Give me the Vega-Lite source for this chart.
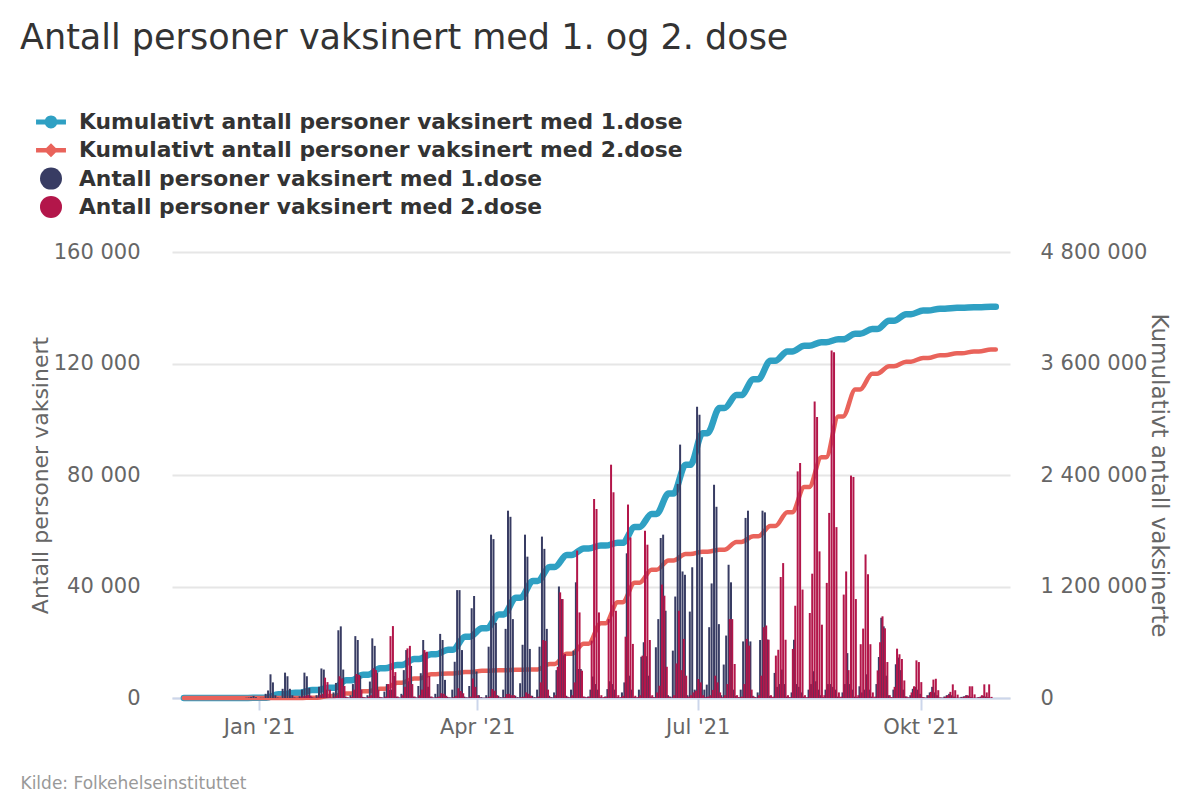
{
  "$schema": "https://vega.github.io/schema/vega-lite/v6.json",
  "width": 838,
  "height": 446,
  "autosize": {"type": "none"},
  "padding": {"left": 172, "top": 252, "right": 190, "bottom": 102},
  "background": "white",
  "config": {
    "font": "DejaVu Sans",
    "view": {"stroke": null},
    "axis": {
      "labelColor": "#666666",
      "labelFontSize": 21,
      "labelFont": "DejaVu Sans",
      "titleColor": "#666666",
      "titleFontSize": 22,
      "titleFont": "DejaVu Sans",
      "titleFontWeight": "normal"
    }
  },
  "title": {
    "text": "Antall personer vaksinert med 1. og 2. dose",
    "anchor": "start",
    "frame": "group",
    "dx": -152,
    "offset": 55,
    "fontSize": 35,
    "fontWeight": "normal",
    "font": "DejaVu Sans",
    "color": "#333333"
  },
  "datasets": {
    "kumulativ": [
      {"dato": "2020-12-01", "k1": 0, "k2": 0},
      {"dato": "2020-12-26", "k1": 0, "k2": 0},
      {"dato": "2021-01-02", "k1": 4000, "k2": 0},
      {"dato": "2021-01-04", "k1": 4000, "k2": 0},
      {"dato": "2021-01-09", "k1": 40000, "k2": 0},
      {"dato": "2021-01-11", "k1": 40000, "k2": 0},
      {"dato": "2021-01-16", "k1": 57000, "k2": 0},
      {"dato": "2021-01-18", "k1": 57000, "k2": 0},
      {"dato": "2021-01-23", "k1": 85000, "k2": 4000},
      {"dato": "2021-01-25", "k1": 85000, "k2": 4000},
      {"dato": "2021-01-30", "k1": 110000, "k2": 22000},
      {"dato": "2021-02-01", "k1": 110000, "k2": 22000},
      {"dato": "2021-02-06", "k1": 190000, "k2": 48000},
      {"dato": "2021-02-08", "k1": 190000, "k2": 48000},
      {"dato": "2021-02-13", "k1": 250000, "k2": 72000},
      {"dato": "2021-02-15", "k1": 250000, "k2": 72000},
      {"dato": "2021-02-20", "k1": 320000, "k2": 100000},
      {"dato": "2021-02-22", "k1": 320000, "k2": 100000},
      {"dato": "2021-02-27", "k1": 355000, "k2": 165000},
      {"dato": "2021-03-01", "k1": 355000, "k2": 165000},
      {"dato": "2021-03-06", "k1": 420000, "k2": 210000},
      {"dato": "2021-03-08", "k1": 420000, "k2": 210000},
      {"dato": "2021-03-13", "k1": 470000, "k2": 255000},
      {"dato": "2021-03-15", "k1": 470000, "k2": 255000},
      {"dato": "2021-03-20", "k1": 520000, "k2": 265000},
      {"dato": "2021-03-22", "k1": 520000, "k2": 265000},
      {"dato": "2021-03-27", "k1": 660000, "k2": 280000},
      {"dato": "2021-03-29", "k1": 660000, "k2": 280000},
      {"dato": "2021-04-03", "k1": 750000, "k2": 292000},
      {"dato": "2021-04-05", "k1": 750000, "k2": 292000},
      {"dato": "2021-04-10", "k1": 900000, "k2": 298000},
      {"dato": "2021-04-12", "k1": 900000, "k2": 298000},
      {"dato": "2021-04-17", "k1": 1080000, "k2": 303000},
      {"dato": "2021-04-19", "k1": 1080000, "k2": 303000},
      {"dato": "2021-04-24", "k1": 1260000, "k2": 308000},
      {"dato": "2021-04-26", "k1": 1260000, "k2": 308000},
      {"dato": "2021-05-01", "k1": 1410000, "k2": 365000},
      {"dato": "2021-05-03", "k1": 1410000, "k2": 365000},
      {"dato": "2021-05-08", "k1": 1540000, "k2": 475000},
      {"dato": "2021-05-10", "k1": 1540000, "k2": 475000},
      {"dato": "2021-05-15", "k1": 1610000, "k2": 585000},
      {"dato": "2021-05-17", "k1": 1610000, "k2": 585000},
      {"dato": "2021-05-22", "k1": 1640000, "k2": 805000},
      {"dato": "2021-05-24", "k1": 1640000, "k2": 805000},
      {"dato": "2021-05-29", "k1": 1670000, "k2": 1030000},
      {"dato": "2021-05-31", "k1": 1670000, "k2": 1030000},
      {"dato": "2021-06-05", "k1": 1840000, "k2": 1240000},
      {"dato": "2021-06-07", "k1": 1840000, "k2": 1240000},
      {"dato": "2021-06-12", "k1": 1980000, "k2": 1380000},
      {"dato": "2021-06-14", "k1": 1980000, "k2": 1380000},
      {"dato": "2021-06-19", "k1": 2200000, "k2": 1480000},
      {"dato": "2021-06-21", "k1": 2200000, "k2": 1480000},
      {"dato": "2021-06-26", "k1": 2510000, "k2": 1550000},
      {"dato": "2021-06-28", "k1": 2510000, "k2": 1550000},
      {"dato": "2021-07-03", "k1": 2850000, "k2": 1575000},
      {"dato": "2021-07-05", "k1": 2850000, "k2": 1575000},
      {"dato": "2021-07-10", "k1": 3120000, "k2": 1595000},
      {"dato": "2021-07-12", "k1": 3120000, "k2": 1595000},
      {"dato": "2021-07-17", "k1": 3260000, "k2": 1680000},
      {"dato": "2021-07-19", "k1": 3260000, "k2": 1680000},
      {"dato": "2021-07-24", "k1": 3430000, "k2": 1740000},
      {"dato": "2021-07-26", "k1": 3430000, "k2": 1740000},
      {"dato": "2021-07-31", "k1": 3630000, "k2": 1850000},
      {"dato": "2021-08-02", "k1": 3630000, "k2": 1850000},
      {"dato": "2021-08-07", "k1": 3730000, "k2": 2000000},
      {"dato": "2021-08-09", "k1": 3730000, "k2": 2000000},
      {"dato": "2021-08-14", "k1": 3790000, "k2": 2270000},
      {"dato": "2021-08-16", "k1": 3790000, "k2": 2270000},
      {"dato": "2021-08-21", "k1": 3830000, "k2": 2590000},
      {"dato": "2021-08-23", "k1": 3830000, "k2": 2590000},
      {"dato": "2021-08-28", "k1": 3860000, "k2": 3030000},
      {"dato": "2021-08-30", "k1": 3860000, "k2": 3030000},
      {"dato": "2021-09-04", "k1": 3920000, "k2": 3320000},
      {"dato": "2021-09-06", "k1": 3920000, "k2": 3320000},
      {"dato": "2021-09-11", "k1": 3970000, "k2": 3490000},
      {"dato": "2021-09-13", "k1": 3970000, "k2": 3490000},
      {"dato": "2021-09-18", "k1": 4060000, "k2": 3570000},
      {"dato": "2021-09-20", "k1": 4060000, "k2": 3570000},
      {"dato": "2021-09-25", "k1": 4130000, "k2": 3620000},
      {"dato": "2021-09-27", "k1": 4130000, "k2": 3620000},
      {"dato": "2021-10-02", "k1": 4170000, "k2": 3660000},
      {"dato": "2021-10-04", "k1": 4170000, "k2": 3660000},
      {"dato": "2021-10-09", "k1": 4190000, "k2": 3690000},
      {"dato": "2021-10-11", "k1": 4190000, "k2": 3690000},
      {"dato": "2021-10-16", "k1": 4200000, "k2": 3710000},
      {"dato": "2021-10-18", "k1": 4200000, "k2": 3710000},
      {"dato": "2021-10-23", "k1": 4205000, "k2": 3730000},
      {"dato": "2021-10-25", "k1": 4205000, "k2": 3730000},
      {"dato": "2021-10-30", "k1": 4210000, "k2": 3750000},
      {"dato": "2021-11-01", "k1": 4210000, "k2": 3750000}
    ],
    "daglig": [
      {"dato": "2020-12-27", "d1": 100, "d2": 0},
      {"dato": "2020-12-28", "d1": 200, "d2": 0},
      {"dato": "2020-12-29", "d1": 400, "d2": 0},
      {"dato": "2020-12-30", "d1": 700, "d2": 0},
      {"dato": "2020-12-31", "d1": 300, "d2": 0},
      {"dato": "2021-01-01", "d1": 0, "d2": 0},
      {"dato": "2021-01-02", "d1": 100, "d2": 0},
      {"dato": "2021-01-03", "d1": 100, "d2": 0},
      {"dato": "2021-01-04", "d1": 1500, "d2": 0},
      {"dato": "2021-01-05", "d1": 2700, "d2": 0},
      {"dato": "2021-01-06", "d1": 8500, "d2": 0},
      {"dato": "2021-01-07", "d1": 5600, "d2": 0},
      {"dato": "2021-01-08", "d1": 1000, "d2": 0},
      {"dato": "2021-01-09", "d1": 200, "d2": 0},
      {"dato": "2021-01-10", "d1": 100, "d2": 0},
      {"dato": "2021-01-11", "d1": 3300, "d2": 0},
      {"dato": "2021-01-12", "d1": 9100, "d2": 0},
      {"dato": "2021-01-13", "d1": 7800, "d2": 0},
      {"dato": "2021-01-14", "d1": 3300, "d2": 0},
      {"dato": "2021-01-15", "d1": 1000, "d2": 200},
      {"dato": "2021-01-16", "d1": 200, "d2": 0},
      {"dato": "2021-01-17", "d1": 100, "d2": 0},
      {"dato": "2021-01-18", "d1": 600, "d2": 300},
      {"dato": "2021-01-19", "d1": 3000, "d2": 500},
      {"dato": "2021-01-20", "d1": 9100, "d2": 800},
      {"dato": "2021-01-21", "d1": 7800, "d2": 1000},
      {"dato": "2021-01-22", "d1": 3600, "d2": 800},
      {"dato": "2021-01-23", "d1": 300, "d2": 100},
      {"dato": "2021-01-24", "d1": 100, "d2": 0},
      {"dato": "2021-01-25", "d1": 1000, "d2": 300},
      {"dato": "2021-01-26", "d1": 4000, "d2": 1000},
      {"dato": "2021-01-27", "d1": 10600, "d2": 1500},
      {"dato": "2021-01-28", "d1": 10200, "d2": 7300},
      {"dato": "2021-01-29", "d1": 3000, "d2": 5700},
      {"dato": "2021-01-30", "d1": 200, "d2": 3000},
      {"dato": "2021-01-31", "d1": 100, "d2": 100},
      {"dato": "2021-02-01", "d1": 2000, "d2": 500},
      {"dato": "2021-02-02", "d1": 5400, "d2": 1000},
      {"dato": "2021-02-03", "d1": 24300, "d2": 7800},
      {"dato": "2021-02-04", "d1": 25700, "d2": 7000},
      {"dato": "2021-02-05", "d1": 10200, "d2": 4300},
      {"dato": "2021-02-06", "d1": 500, "d2": 300},
      {"dato": "2021-02-07", "d1": 200, "d2": 100},
      {"dato": "2021-02-08", "d1": 1000, "d2": 500},
      {"dato": "2021-02-09", "d1": 5000, "d2": 3000},
      {"dato": "2021-02-10", "d1": 22200, "d2": 8600},
      {"dato": "2021-02-11", "d1": 20800, "d2": 8300},
      {"dato": "2021-02-12", "d1": 8000, "d2": 3000},
      {"dato": "2021-02-13", "d1": 400, "d2": 300},
      {"dato": "2021-02-14", "d1": 200, "d2": 100},
      {"dato": "2021-02-15", "d1": 1000, "d2": 500},
      {"dato": "2021-02-16", "d1": 5900, "d2": 1000},
      {"dato": "2021-02-17", "d1": 21400, "d2": 10600},
      {"dato": "2021-02-18", "d1": 18700, "d2": 10000},
      {"dato": "2021-02-19", "d1": 9000, "d2": 3000},
      {"dato": "2021-02-20", "d1": 400, "d2": 300},
      {"dato": "2021-02-21", "d1": 200, "d2": 100},
      {"dato": "2021-02-22", "d1": 2300, "d2": 500},
      {"dato": "2021-02-23", "d1": 5000, "d2": 5000},
      {"dato": "2021-02-24", "d1": 3000, "d2": 22200},
      {"dato": "2021-02-25", "d1": 3000, "d2": 25800},
      {"dato": "2021-02-26", "d1": 7900, "d2": 9300},
      {"dato": "2021-02-27", "d1": 500, "d2": 500},
      {"dato": "2021-02-28", "d1": 200, "d2": 100},
      {"dato": "2021-03-01", "d1": 1500, "d2": 1000},
      {"dato": "2021-03-02", "d1": 10000, "d2": 4000},
      {"dato": "2021-03-03", "d1": 17200, "d2": 17800},
      {"dato": "2021-03-04", "d1": 6000, "d2": 18700},
      {"dato": "2021-03-05", "d1": 11500, "d2": 5000},
      {"dato": "2021-03-06", "d1": 500, "d2": 500},
      {"dato": "2021-03-07", "d1": 200, "d2": 100},
      {"dato": "2021-03-08", "d1": 4300, "d2": 1000},
      {"dato": "2021-03-09", "d1": 8900, "d2": 3000},
      {"dato": "2021-03-10", "d1": 20800, "d2": 17200},
      {"dato": "2021-03-11", "d1": 16300, "d2": 16600},
      {"dato": "2021-03-12", "d1": 4000, "d2": 7900},
      {"dato": "2021-03-13", "d1": 500, "d2": 500},
      {"dato": "2021-03-14", "d1": 200, "d2": 100},
      {"dato": "2021-03-15", "d1": 1500, "d2": 300},
      {"dato": "2021-03-16", "d1": 5000, "d2": 500},
      {"dato": "2021-03-17", "d1": 23000, "d2": 1700},
      {"dato": "2021-03-18", "d1": 20800, "d2": 1500},
      {"dato": "2021-03-19", "d1": 6500, "d2": 800},
      {"dato": "2021-03-20", "d1": 400, "d2": 200},
      {"dato": "2021-03-21", "d1": 200, "d2": 100},
      {"dato": "2021-03-22", "d1": 3000, "d2": 300},
      {"dato": "2021-03-23", "d1": 13000, "d2": 800},
      {"dato": "2021-03-24", "d1": 38700, "d2": 3500},
      {"dato": "2021-03-25", "d1": 38700, "d2": 2500},
      {"dato": "2021-03-26", "d1": 17200, "d2": 1700},
      {"dato": "2021-03-27", "d1": 500, "d2": 200},
      {"dato": "2021-03-28", "d1": 200, "d2": 100},
      {"dato": "2021-03-29", "d1": 4300, "d2": 500},
      {"dato": "2021-03-30", "d1": 32200, "d2": 7000},
      {"dato": "2021-03-31", "d1": 36600, "d2": 4000},
      {"dato": "2021-04-01", "d1": 9500, "d2": 1000},
      {"dato": "2021-04-02", "d1": 1000, "d2": 200},
      {"dato": "2021-04-03", "d1": 300, "d2": 100},
      {"dato": "2021-04-04", "d1": 100, "d2": 100},
      {"dato": "2021-04-05", "d1": 1000, "d2": 200},
      {"dato": "2021-04-06", "d1": 18400, "d2": 500},
      {"dato": "2021-04-07", "d1": 58600, "d2": 3200},
      {"dato": "2021-04-08", "d1": 57000, "d2": 2600},
      {"dato": "2021-04-09", "d1": 27000, "d2": 1000},
      {"dato": "2021-04-10", "d1": 800, "d2": 200},
      {"dato": "2021-04-11", "d1": 300, "d2": 100},
      {"dato": "2021-04-12", "d1": 3000, "d2": 300},
      {"dato": "2021-04-13", "d1": 24800, "d2": 1400},
      {"dato": "2021-04-14", "d1": 67200, "d2": 1500},
      {"dato": "2021-04-15", "d1": 65000, "d2": 1000},
      {"dato": "2021-04-16", "d1": 28300, "d2": 1000},
      {"dato": "2021-04-17", "d1": 800, "d2": 200},
      {"dato": "2021-04-18", "d1": 300, "d2": 100},
      {"dato": "2021-04-19", "d1": 5300, "d2": 300},
      {"dato": "2021-04-20", "d1": 19100, "d2": 500},
      {"dato": "2021-04-21", "d1": 58600, "d2": 2000},
      {"dato": "2021-04-22", "d1": 50700, "d2": 1500},
      {"dato": "2021-04-23", "d1": 17600, "d2": 800},
      {"dato": "2021-04-24", "d1": 800, "d2": 200},
      {"dato": "2021-04-25", "d1": 300, "d2": 100},
      {"dato": "2021-04-26", "d1": 3000, "d2": 500},
      {"dato": "2021-04-27", "d1": 18400, "d2": 5600},
      {"dato": "2021-04-28", "d1": 57900, "d2": 20800},
      {"dato": "2021-04-29", "d1": 53500, "d2": 20500},
      {"dato": "2021-04-30", "d1": 24800, "d2": 3000},
      {"dato": "2021-05-01", "d1": 800, "d2": 300},
      {"dato": "2021-05-02", "d1": 300, "d2": 100},
      {"dato": "2021-05-03", "d1": 2000, "d2": 1000},
      {"dato": "2021-05-04", "d1": 10000, "d2": 11200},
      {"dato": "2021-05-05", "d1": 40000, "d2": 37900},
      {"dato": "2021-05-06", "d1": 35500, "d2": 35500},
      {"dato": "2021-05-07", "d1": 15300, "d2": 15800},
      {"dato": "2021-05-08", "d1": 800, "d2": 500},
      {"dato": "2021-05-09", "d1": 300, "d2": 200},
      {"dato": "2021-05-10", "d1": 3000, "d2": 1000},
      {"dato": "2021-05-11", "d1": 17000, "d2": 5600},
      {"dato": "2021-05-12", "d1": 41500, "d2": 52900},
      {"dato": "2021-05-13", "d1": 10400, "d2": 30700},
      {"dato": "2021-05-14", "d1": 10400, "d2": 9800},
      {"dato": "2021-05-15", "d1": 500, "d2": 500},
      {"dato": "2021-05-16", "d1": 300, "d2": 200},
      {"dato": "2021-05-17", "d1": 500, "d2": 500},
      {"dato": "2021-05-18", "d1": 3000, "d2": 20600},
      {"dato": "2021-05-19", "d1": 7700, "d2": 71400},
      {"dato": "2021-05-20", "d1": 5000, "d2": 67800},
      {"dato": "2021-05-21", "d1": 3000, "d2": 30700},
      {"dato": "2021-05-22", "d1": 300, "d2": 1000},
      {"dato": "2021-05-23", "d1": 200, "d2": 300},
      {"dato": "2021-05-24", "d1": 500, "d2": 500},
      {"dato": "2021-05-25", "d1": 3200, "d2": 28300},
      {"dato": "2021-05-26", "d1": 6000, "d2": 83700},
      {"dato": "2021-05-27", "d1": 5000, "d2": 73800},
      {"dato": "2021-05-28", "d1": 3000, "d2": 31300},
      {"dato": "2021-05-29", "d1": 300, "d2": 1000},
      {"dato": "2021-05-30", "d1": 200, "d2": 300},
      {"dato": "2021-05-31", "d1": 2000, "d2": 800},
      {"dato": "2021-06-01", "d1": 5600, "d2": 22000},
      {"dato": "2021-06-02", "d1": 51900, "d2": 69400},
      {"dato": "2021-06-03", "d1": 8000, "d2": 57600},
      {"dato": "2021-06-04", "d1": 3000, "d2": 19400},
      {"dato": "2021-06-05", "d1": 400, "d2": 800},
      {"dato": "2021-06-06", "d1": 200, "d2": 300},
      {"dato": "2021-06-07", "d1": 3000, "d2": 1000},
      {"dato": "2021-06-08", "d1": 14800, "d2": 15200},
      {"dato": "2021-06-09", "d1": 20000, "d2": 60000},
      {"dato": "2021-06-10", "d1": 15000, "d2": 55000},
      {"dato": "2021-06-11", "d1": 8000, "d2": 20800},
      {"dato": "2021-06-12", "d1": 500, "d2": 1000},
      {"dato": "2021-06-13", "d1": 300, "d2": 300},
      {"dato": "2021-06-14", "d1": 18200, "d2": 2000},
      {"dato": "2021-06-15", "d1": 28300, "d2": 4400},
      {"dato": "2021-06-16", "d1": 57400, "d2": 40700},
      {"dato": "2021-06-17", "d1": 58600, "d2": 36700},
      {"dato": "2021-06-18", "d1": 31300, "d2": 11200},
      {"dato": "2021-06-19", "d1": 1000, "d2": 500},
      {"dato": "2021-06-20", "d1": 500, "d2": 200},
      {"dato": "2021-06-21", "d1": 17000, "d2": 1000},
      {"dato": "2021-06-22", "d1": 36400, "d2": 12400},
      {"dato": "2021-06-23", "d1": 76800, "d2": 31300},
      {"dato": "2021-06-24", "d1": 90900, "d2": 10000},
      {"dato": "2021-06-25", "d1": 45400, "d2": 21200},
      {"dato": "2021-06-26", "d1": 44200, "d2": 8000},
      {"dato": "2021-06-27", "d1": 1000, "d2": 500},
      {"dato": "2021-06-28", "d1": 31000, "d2": 1000},
      {"dato": "2021-06-29", "d1": 46900, "d2": 2000},
      {"dato": "2021-06-30", "d1": 3000, "d2": 2600},
      {"dato": "2021-07-01", "d1": 104500, "d2": 6800},
      {"dato": "2021-07-02", "d1": 101600, "d2": 5600},
      {"dato": "2021-07-03", "d1": 50500, "d2": 1000},
      {"dato": "2021-07-04", "d1": 3000, "d2": 300},
      {"dato": "2021-07-05", "d1": 4800, "d2": 500},
      {"dato": "2021-07-06", "d1": 25400, "d2": 1000},
      {"dato": "2021-07-07", "d1": 41100, "d2": 2900},
      {"dato": "2021-07-08", "d1": 76500, "d2": 8000},
      {"dato": "2021-07-09", "d1": 68600, "d2": 5600},
      {"dato": "2021-07-10", "d1": 26500, "d2": 2000},
      {"dato": "2021-07-11", "d1": 1000, "d2": 300},
      {"dato": "2021-07-12", "d1": 12000, "d2": 1000},
      {"dato": "2021-07-13", "d1": 22400, "d2": 5000},
      {"dato": "2021-07-14", "d1": 47800, "d2": 28300},
      {"dato": "2021-07-15", "d1": 41500, "d2": 28300},
      {"dato": "2021-07-16", "d1": 3000, "d2": 12200},
      {"dato": "2021-07-17", "d1": 800, "d2": 1000},
      {"dato": "2021-07-18", "d1": 300, "d2": 300},
      {"dato": "2021-07-19", "d1": 3000, "d2": 500},
      {"dato": "2021-07-20", "d1": 20300, "d2": 5000},
      {"dato": "2021-07-21", "d1": 64600, "d2": 21200},
      {"dato": "2021-07-22", "d1": 67200, "d2": 18800},
      {"dato": "2021-07-23", "d1": 20300, "d2": 3000},
      {"dato": "2021-07-24", "d1": 800, "d2": 500},
      {"dato": "2021-07-25", "d1": 300, "d2": 200},
      {"dato": "2021-07-26", "d1": 2000, "d2": 1000},
      {"dato": "2021-07-27", "d1": 20800, "d2": 8000},
      {"dato": "2021-07-28", "d1": 67200, "d2": 25400},
      {"dato": "2021-07-29", "d1": 66600, "d2": 26000},
      {"dato": "2021-07-30", "d1": 21000, "d2": 20900},
      {"dato": "2021-07-31", "d1": 800, "d2": 1000},
      {"dato": "2021-08-01", "d1": 300, "d2": 500},
      {"dato": "2021-08-02", "d1": 9000, "d2": 15200},
      {"dato": "2021-08-03", "d1": 4000, "d2": 17300},
      {"dato": "2021-08-04", "d1": 5000, "d2": 43400},
      {"dato": "2021-08-05", "d1": 10200, "d2": 48400},
      {"dato": "2021-08-06", "d1": 5000, "d2": 20900},
      {"dato": "2021-08-07", "d1": 500, "d2": 1000},
      {"dato": "2021-08-08", "d1": 300, "d2": 300},
      {"dato": "2021-08-09", "d1": 2000, "d2": 17600},
      {"dato": "2021-08-10", "d1": 20900, "d2": 33100},
      {"dato": "2021-08-11", "d1": 5000, "d2": 81300},
      {"dato": "2021-08-12", "d1": 4000, "d2": 84300},
      {"dato": "2021-08-13", "d1": 2000, "d2": 38900},
      {"dato": "2021-08-14", "d1": 500, "d2": 1000},
      {"dato": "2021-08-15", "d1": 200, "d2": 300},
      {"dato": "2021-08-16", "d1": 3000, "d2": 30500},
      {"dato": "2021-08-17", "d1": 5000, "d2": 44600},
      {"dato": "2021-08-18", "d1": 9600, "d2": 106400},
      {"dato": "2021-08-19", "d1": 6000, "d2": 100800},
      {"dato": "2021-08-20", "d1": 3000, "d2": 52600},
      {"dato": "2021-08-21", "d1": 1000, "d2": 26300},
      {"dato": "2021-08-22", "d1": 300, "d2": 1000},
      {"dato": "2021-08-23", "d1": 3000, "d2": 41300},
      {"dato": "2021-08-24", "d1": 5000, "d2": 66400},
      {"dato": "2021-08-25", "d1": 5000, "d2": 124700},
      {"dato": "2021-08-26", "d1": 4000, "d2": 124000},
      {"dato": "2021-08-27", "d1": 3000, "d2": 61300},
      {"dato": "2021-08-28", "d1": 500, "d2": 2000},
      {"dato": "2021-08-29", "d1": 300, "d2": 500},
      {"dato": "2021-08-30", "d1": 2000, "d2": 37100},
      {"dato": "2021-08-31", "d1": 5000, "d2": 45400},
      {"dato": "2021-09-01", "d1": 16100, "d2": 10000},
      {"dato": "2021-09-02", "d1": 5000, "d2": 79800},
      {"dato": "2021-09-03", "d1": 3000, "d2": 79300},
      {"dato": "2021-09-04", "d1": 500, "d2": 35500},
      {"dato": "2021-09-05", "d1": 300, "d2": 1000},
      {"dato": "2021-09-06", "d1": 4200, "d2": 19300},
      {"dato": "2021-09-07", "d1": 2000, "d2": 24900},
      {"dato": "2021-09-08", "d1": 3000, "d2": 51500},
      {"dato": "2021-09-09", "d1": 8500, "d2": 44400},
      {"dato": "2021-09-10", "d1": 3000, "d2": 19300},
      {"dato": "2021-09-11", "d1": 500, "d2": 2000},
      {"dato": "2021-09-12", "d1": 200, "d2": 500},
      {"dato": "2021-09-13", "d1": 5000, "d2": 9900},
      {"dato": "2021-09-14", "d1": 14700, "d2": 20000},
      {"dato": "2021-09-15", "d1": 28800, "d2": 29300},
      {"dato": "2021-09-16", "d1": 25700, "d2": 25000},
      {"dato": "2021-09-17", "d1": 8000, "d2": 12900},
      {"dato": "2021-09-18", "d1": 1000, "d2": 1000},
      {"dato": "2021-09-19", "d1": 300, "d2": 300},
      {"dato": "2021-09-20", "d1": 3000, "d2": 4000},
      {"dato": "2021-09-21", "d1": 12100, "d2": 17700},
      {"dato": "2021-09-22", "d1": 14500, "d2": 15700},
      {"dato": "2021-09-23", "d1": 10000, "d2": 14000},
      {"dato": "2021-09-24", "d1": 3000, "d2": 6300},
      {"dato": "2021-09-25", "d1": 600, "d2": 500},
      {"dato": "2021-09-26", "d1": 200, "d2": 200},
      {"dato": "2021-09-27", "d1": 1000, "d2": 2000},
      {"dato": "2021-09-28", "d1": 3300, "d2": 4200},
      {"dato": "2021-09-29", "d1": 4000, "d2": 13500},
      {"dato": "2021-09-30", "d1": 3000, "d2": 12900},
      {"dato": "2021-10-01", "d1": 1500, "d2": 5700},
      {"dato": "2021-10-02", "d1": 300, "d2": 300},
      {"dato": "2021-10-03", "d1": 100, "d2": 100},
      {"dato": "2021-10-04", "d1": 1000, "d2": 1000},
      {"dato": "2021-10-05", "d1": 2000, "d2": 2200},
      {"dato": "2021-10-06", "d1": 4000, "d2": 6600},
      {"dato": "2021-10-07", "d1": 2000, "d2": 6900},
      {"dato": "2021-10-08", "d1": 1000, "d2": 2800},
      {"dato": "2021-10-09", "d1": 200, "d2": 200},
      {"dato": "2021-10-10", "d1": 100, "d2": 100},
      {"dato": "2021-10-11", "d1": 500, "d2": 500},
      {"dato": "2021-10-12", "d1": 1000, "d2": 1000},
      {"dato": "2021-10-13", "d1": 1500, "d2": 2200},
      {"dato": "2021-10-14", "d1": 1000, "d2": 4900},
      {"dato": "2021-10-15", "d1": 500, "d2": 2800},
      {"dato": "2021-10-16", "d1": 100, "d2": 1200},
      {"dato": "2021-10-17", "d1": 100, "d2": 100},
      {"dato": "2021-10-18", "d1": 400, "d2": 300},
      {"dato": "2021-10-19", "d1": 600, "d2": 600},
      {"dato": "2021-10-20", "d1": 1000, "d2": 1000},
      {"dato": "2021-10-21", "d1": 800, "d2": 4200},
      {"dato": "2021-10-22", "d1": 400, "d2": 4200},
      {"dato": "2021-10-23", "d1": 100, "d2": 1300},
      {"dato": "2021-10-24", "d1": 100, "d2": 100},
      {"dato": "2021-10-25", "d1": 300, "d2": 300},
      {"dato": "2021-10-26", "d1": 500, "d2": 1000},
      {"dato": "2021-10-27", "d1": 800, "d2": 4900},
      {"dato": "2021-10-28", "d1": 500, "d2": 2000},
      {"dato": "2021-10-29", "d1": 300, "d2": 4900},
      {"dato": "2021-10-30", "d1": 100, "d2": 400},
      {"dato": "2021-10-31", "d1": 0, "d2": 0}
    ]
  },
  "encoding": {
    "x": {
      "field": "dato",
      "type": "temporal",
      "scale": {
        "type": "utc",
        "domain": [
          {"year": 2020, "month": 11, "date": 28, "hours": 4, "utc": true},
          {"year": 2021, "month": 11, "date": 4, "hours": 19, "utc": true}
        ]
      },
      "axis": {
        "title": "Kilde: Folkehelseinstituttet",
        "titleFontSize": 17,
        "titleColor": "#999999",
        "titleAlign": "left",
        "titleAnchor": "start",
        "titleBaseline": "middle",
        "titleX": -152,
        "titleY": 85,
        "grid": false,
        "domainColor": "#ccd6eb",
        "domainWidth": 2,
        "tickColor": "#ccd6eb",
        "tickWidth": 2,
        "tickSize": 12,
        "labelPadding": 6,
        "labelFontSize": 21,
        "tickCount": {"interval": "month", "step": 3},
        "labelExpr": "replace(utcFormat(datum.value, \"%b '%y\"), 'Oct', 'Okt')"
      }
    }
  },
  "layer": [
    {
      "data": {"name": "kumulativ"},
      "layer": [
        {
          "mark": {"type": "line", "interpolate": "monotone", "strokeWidth": 6.5, "strokeCap": "round"},
          "encoding": {
            "y": {
              "field": "k1",
              "type": "quantitative",
              "scale": {"domain": [0, 4800000], "nice": false},
              "axis": {
                "orient": "right",
                "title": "Kumulativt antall vaksinerte",
                "titleAngle": 90,
                "titleFontSize": 23,
                "titlePadding": 0,
                "values": [0, 1200000, 2400000, 3600000, 4800000],
                "grid": false,
                "ticks": false,
                "domain": false,
                "labelPadding": 30,
                "labelExpr": "replace(format(datum.value, ','), regexp(',', 'g'), ' ')"
              }
            },
            "color": {
              "datum": "k1",
              "type": "nominal",
              "scale": {
                "domain": ["k1", "k2", "d1", "d2"],
                "range": ["#2fa0c3", "#e9635b", "#383c63", "#b3164a"]
              },
              "legend": {
                "orient": "none",
                "legendX": -132,
                "legendY": -141,
                "direction": "vertical",
                "title": null,
                "labelFont": "DejaVu Sans",
                "labelFontSize": 21.8,
                "labelFontWeight": "bold",
                "labelColor": "#333333",
                "labelOffset": 17,
                "labelLimit": 1000,
                "rowPadding": 5.3,
                "symbolSize": 484,
                "labelExpr": "datum.value === 'k1' ? 'Kumulativt antall personer vaksinert med 1.dose' : datum.value === 'k2' ? 'Kumulativt antall personer vaksinert med 2.dose' : datum.value === 'd1' ? 'Antall personer vaksinert med 1.dose' : 'Antall personer vaksinert med 2.dose'",
                "encode": {
                  "symbols": {
                    "update": {
                      "shape": {"signal": "datum.value === 'k1' ? 'M-1.36,-0.22L1.36,-0.22L1.36,0.22L-1.36,0.22Z M-0.58,0A0.58,0.58 0 1,1 0.58,0A0.58,0.58 0 1,1 -0.58,0Z' : datum.value === 'k2' ? 'M-1.36,-0.2L1.36,-0.2L1.36,0.2L-1.36,0.2Z M0,-0.64L0.64,0L0,0.64L-0.64,0Z' : 'circle'"},
                      "fill": {"signal": "scale('color', datum.value)"},
                      "fillOpacity": {"value": 1},
                      "stroke": {"value": "transparent"},
                      "strokeWidth": {"value": 0},
                      "size": {"value": 484}
                    }
                  }
                }
              }
            }
          }
        },
        {
          "mark": {"type": "line", "interpolate": "monotone", "strokeWidth": 4.5, "strokeCap": "round"},
          "encoding": {
            "y": {
              "field": "k2",
              "type": "quantitative",
              "scale": {"domain": [0, 4800000], "nice": false},
              "axis": {
                "orient": "right",
                "title": "Kumulativt antall vaksinerte",
                "titleAngle": 90,
                "titleFontSize": 23,
                "titlePadding": 0,
                "values": [0, 1200000, 2400000, 3600000, 4800000],
                "grid": false,
                "ticks": false,
                "domain": false,
                "labelPadding": 30,
                "labelExpr": "replace(format(datum.value, ','), regexp(',', 'g'), ' ')"
              }
            },
            "color": {"datum": "k2", "type": "nominal"}
          }
        }
      ]
    },
    {
      "data": {"name": "daglig"},
      "layer": [
        {
          "mark": {"type": "bar", "width": 2, "xOffset": -0.62},
          "encoding": {
            "y": {
              "field": "d1",
              "type": "quantitative",
              "scale": {"domain": [0, 160000], "nice": false},
              "axis": {
                "orient": "left",
                "title": "Antall personer vaksinert",
                "titlePadding": 1,
                "values": [0, 40000, 80000, 120000, 160000],
                "grid": true,
                "gridColor": "#e6e6e6",
                "gridWidth": 2,
                "ticks": false,
                "domain": false,
                "labelPadding": 32,
                "labelExpr": "replace(format(datum.value, ','), regexp(',', 'g'), ' ')"
              }
            },
            "color": {"datum": "d1", "type": "nominal"}
          }
        },
        {
          "mark": {"type": "bar", "width": 2, "xOffset": 0.62},
          "encoding": {
            "y": {
              "field": "d2",
              "type": "quantitative",
              "scale": {"domain": [0, 160000], "nice": false},
              "axis": {
                "orient": "left",
                "title": "Antall personer vaksinert",
                "titlePadding": 1,
                "values": [0, 40000, 80000, 120000, 160000],
                "grid": true,
                "gridColor": "#e6e6e6",
                "gridWidth": 2,
                "ticks": false,
                "domain": false,
                "labelPadding": 32,
                "labelExpr": "replace(format(datum.value, ','), regexp(',', 'g'), ' ')"
              }
            },
            "color": {"datum": "d2", "type": "nominal"}
          }
        }
      ]
    }
  ],
  "resolve": {"scale": {"y": "independent"}}
}
